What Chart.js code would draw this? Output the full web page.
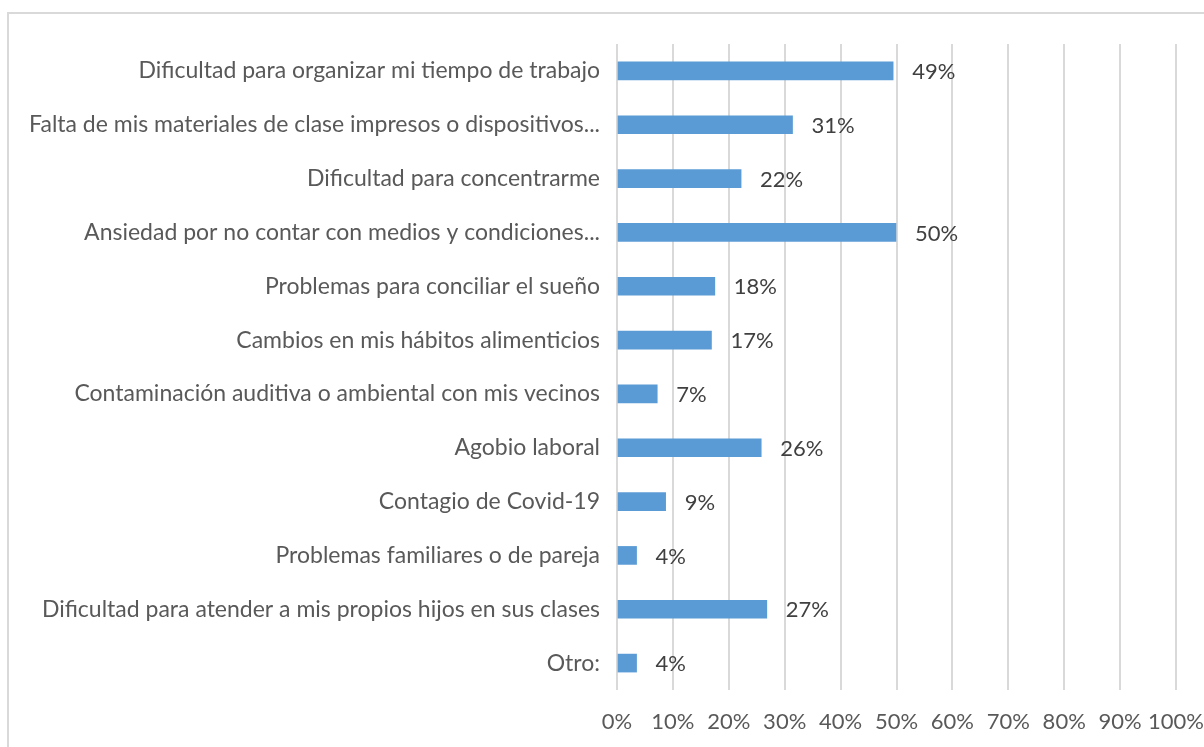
<!DOCTYPE html>
<html><head><meta charset="utf-8">
<script src="https://cdn.jsdelivr.net/npm/chart.js@4/dist/chart.umd.min.js"></script>
<style>
html,body{margin:0;padding:0;background:#fff;overflow:hidden}
#wrap{position:relative;width:1204px;height:747px;overflow:hidden}
#frame{position:absolute;left:7px;top:12px;width:1300px;height:800px;border-left:2px solid #d9d9d9;border-top:2px solid #d9d9d9;box-sizing:border-box}
canvas{position:absolute;left:0;top:0}
</style></head><body>
<div id="wrap"><div id="frame"></div><canvas id="c" width="1204" height="747"></canvas></div>
<script>
const categories = [
  'Dificultad para organizar mi tiempo de trabajo',
  'Falta de mis materiales de clase impresos o dispositivos...',
  'Dificultad para concentrarme',
  'Ansiedad por no contar con medios y condiciones...',
  'Problemas para conciliar el sueño',
  'Cambios en mis hábitos alimenticios',
  'Contaminación auditiva o ambiental con mis vecinos',
  'Agobio laboral',
  'Contagio de Covid-19',
  'Problemas familiares o de pareja',
  'Dificultad para atender a mis propios hijos en sus clases',
  'Otro:'
];
const values = [49.4, 31.4, 22.2, 49.9, 17.5, 16.9, 7.2, 25.8, 8.7, 3.5, 26.8, 3.5];
const tickLabels = ['0%','10%','20%','30%','40%','50%','60%','70%','80%','90%','100%'];

const FONT = 'Lato';
const CAT_FS = 23;
const NUM_FS = 22;

const labelPlugin = {
  id: 'valueLabels',
  afterDatasetsDraw(chart) {
    const ctx = chart.ctx;
    const meta = chart.getDatasetMeta(0);
    ctx.save();
    ctx.font = NUM_FS + 'px ' + FONT;
    ctx.fillStyle = '#404040';
    ctx.textAlign = 'left';
    ctx.textBaseline = 'middle';
    meta.data.forEach((el, i) => {
      ctx.fillText(Math.round(values[i]) + '%', el.x + 19, el.y + 1);
    });
    ctx.restore();
  }
};

new Chart(document.getElementById('c'), {
  type: 'bar',
  data: {
    labels: categories,
    datasets: [{ data: values, backgroundColor: '#5B9BD5', barThickness: 18 }]
  },
  options: {
    indexAxis: 'y',
    responsive: false,
    animation: false,
    devicePixelRatio: 1,
    layout: { padding: { top: 44, right: 28, left: 0, bottom: 0 } },
    plugins: { legend: { display: false }, tooltip: { enabled: false } },
    scales: {
      x: {
        min: 0, max: 100,
        ticks: { stepSize: 10, color: '#595959', font: { family: FONT, size: NUM_FS }, padding: 19,
                 callback: (v, i) => tickLabels[i], maxRotation: 0, autoSkip: false },
        grid: { color: '#d9d9d9', lineWidth: 2, drawTicks: false },
        border: { display: false },
        afterFit: s => { s.height = 57; s.paddingRight = 0; s.paddingLeft = 0; }
      },
      y: {
        ticks: { color: '#595959', font: { family: FONT, size: CAT_FS }, padding: 17, autoSkip: false },
        grid: { display: false, drawTicks: false },
        border: { display: false },
        afterFit: s => { s.width = 617; s.paddingTop = 0; s.paddingBottom = 0; }
      }
    }
  },
  plugins: [labelPlugin]
});
</script>
</body></html>
